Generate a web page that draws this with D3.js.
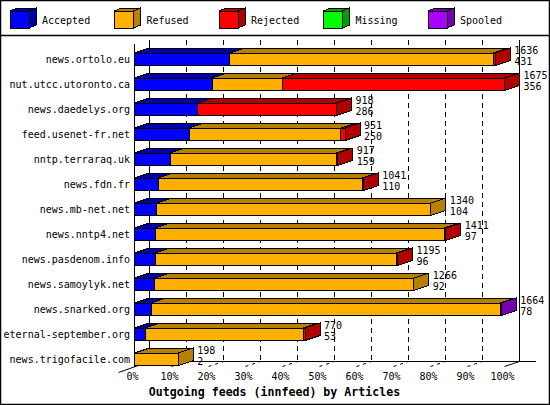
<!DOCTYPE html>
<html>
<head>
<meta charset="utf-8">
<script src="https://cdn.jsdelivr.net/npm/d3@7"></script>
<style>
  body { margin: 0; background: #fff; }
  svg { display: block; }
  text { font-family: "DejaVu Sans Mono", monospace; fill: #000; }
</style>
</head>
<body>
<svg width="550" height="405"></svg>
<script>
// Values (percent of the axis).
const hosts = ['news.ortolo.eu', 'nut.utcc.utoronto.ca', 'news.daedelys.org', 'feed.usenet-fr.net',
  'nntp.terraraq.uk', 'news.fdn.fr', 'news.mb-net.net', 'news.nntp4.net', 'news.pasdenom.info',
  'news.samoylyk.net', 'news.snarked.org', 'eternal-september.org', 'news.trigofacile.com'];
const accepted = [25.8, 21.0, 17.1, 14.8, 9.6, 6.4, 6.0, 5.6, 5.6, 5.5, 4.5, 2.9, 0];
const refused = [71.1, 18.9, 0, 41.0, 45.0, 55.1, 74.1, 78.2, 65.2, 70.0, 94.3, 42.7, 11.8];
const rejected = [0.6, 60.1, 37.5, 1.1, 0.3, 0.3, 0, 0.3, 0.3, 0, 0, 0.5, 0];
const missing = [0, 0, 0, 0, 0, 0, 0, 0, 0, 0, 0, 0, 0];
const spooled = [0, 0, 0, 0, 0, 0, 0, 0, 0, 0, 0.3, 0, 0];
const totals = [1636, 1675, 918, 951, 917, 1041, 1340, 1411, 1195, 1266, 1664, 770, 198];
const second = [431, 356, 286, 250, 159, 110, 104, 97, 96, 92, 78, 53, 2];
const tickValues = [0, 10, 20, 30, 40, 50, 60, 70, 80, 90, 100];
const seriesNames = ['Accepted', 'Refused', 'Rejected', 'Missing', 'Spooled'];
const seriesColors = ['#0000ff', '#ffb000', '#ff0000', '#00ff00', '#aa00ff'];
const seriesDark = ['#0000a8', '#b88000', '#b00000', '#00a000', '#7400b0'];
const title = 'Outgoing feeds (innfeed) by Articles';

const svg = d3.select('svg');
const W = 550, H = 405;
const dx = 15, dy = -5;  // depth of the 3d bars
const barH = 12.5;

const x = d3.scaleLinear().domain([0, 100]).range([134.5, 504.5]);
const y = d3.scalePoint().domain(hosts).range([53, 353]);  // front top of each bar
const yTop = 40, yBase = 361.5;

const series = [accepted, refused, rejected, missing, spooled];

// frame
svg.append('rect').attr('x', 0.5).attr('y', 0.5).attr('width', W - 1).attr('height', H - 1)
  .attr('fill', 'none').attr('stroke', '#000').attr('stroke-width', 1.5);
svg.append('line').attr('x1', 0).attr('x2', W).attr('y1', 35.5).attr('y2', 35.5)
  .attr('stroke', '#000').attr('stroke-width', 1.5);

// legend
const legend = svg.append('g').attr('shape-rendering', 'crispEdges');
seriesNames.forEach((name, i) => {
  const lx = 10 + i * 104.5, ly = 11, bw = 19, bh = 17, ddx = 7, ddy = -3;
  const g = legend.append('g');
  g.append('polygon')
    .attr('points', [[lx, ly], [lx + bw, ly], [lx + bw + ddx, ly + ddy], [lx + ddx, ly + ddy]].join(' '))
    .attr('fill', seriesDark[i]).attr('stroke', '#000');
  g.append('polygon')
    .attr('points', [[lx + bw, ly], [lx + bw + ddx, ly + ddy], [lx + bw + ddx, ly + bh + ddy], [lx + bw, ly + bh]].join(' '))
    .attr('fill', seriesDark[i]).attr('stroke', '#000');
  g.append('rect').attr('x', lx).attr('y', ly).attr('width', bw).attr('height', bh)
    .attr('fill', seriesColors[i]).attr('stroke', '#000');
  g.append('text').attr('x', lx + 32).attr('y', 23.5).attr('font-size', 10).text(name);
});

// back plane: grid and axes
const grid = svg.append('g').attr('shape-rendering', 'crispEdges');
grid.selectAll('line.grid').data(tickValues.slice(1, -1)).join('line')
  .attr('x1', d => x(d) + dx).attr('x2', d => x(d) + dx)
  .attr('y1', yTop).attr('y2', yBase)
  .attr('stroke', '#000').attr('stroke-dasharray', '5,4');
grid.append('line').attr('x1', x(0) + dx).attr('x2', x(0) + dx).attr('y1', yTop).attr('y2', yBase).attr('stroke', '#000');
grid.append('line').attr('x1', x(100) + dx).attr('x2', x(100) + dx).attr('y1', yTop).attr('y2', yBase).attr('stroke', '#000');
grid.append('line').attr('x1', x(0) + dx).attr('x2', x(100) + 2 * dx + 1).attr('y1', yBase).attr('y2', yBase).attr('stroke', '#000');
grid.append('line').attr('x1', x(0)).attr('x2', x(0)).attr('y1', yTop + 4).attr('y2', yBase - dy).attr('stroke', '#000');

// floor ticks
const floor = svg.append('g');
floor.selectAll('line.tick').data(tickValues.slice(1, -1)).join('line')
  .attr('x1', d => x(d)).attr('y1', yBase - dy)
  .attr('x2', d => x(d) + dx).attr('y2', yBase)
  .attr('stroke', '#000').attr('stroke-dasharray', '3,4');
floor.append('line').attr('x1', x(0) - dx - 1).attr('y1', yBase - 2 * dy + 1)
  .attr('x2', x(0) + dx).attr('y2', yBase).attr('stroke', '#000');
floor.append('line').attr('x1', x(100)).attr('y1', yBase - dy)
  .attr('x2', x(100) + dx).attr('y2', yBase).attr('stroke', '#000');

// bars
const bars = svg.append('g').attr('shape-rendering', 'crispEdges');
hosts.forEach((host, r) => {
  const yt = y(host);
  const g = bars.append('g');
  let acc = 0, last = -1;
  const segs = [];
  series.forEach((s, k) => {
    const v = s[r];
    if (v > 0) { segs.push({ k, a: acc, b: acc + v }); acc += v; last = k; }
  });
  segs.forEach(sg => {
    const x0 = x(sg.a), x1 = x(sg.b);
    g.append('polygon')
      .attr('points', [[x0, yt], [x1, yt], [x1 + dx, yt + dy], [x0 + dx, yt + dy]].join(' '))
      .attr('fill', seriesDark[sg.k]).attr('stroke', '#000');
  });
  segs.forEach(sg => {
    g.append('rect').attr('x', x(sg.a)).attr('y', yt)
      .attr('width', x(sg.b) - x(sg.a)).attr('height', barH)
      .attr('fill', seriesColors[sg.k]).attr('stroke', '#000');
  });
  const xe = x(acc);
  g.append('polygon')
    .attr('points', [[xe, yt], [xe + dx, yt + dy], [xe + dx, yt + barH + dy], [xe, yt + barH]].join(' '))
    .attr('fill', seriesDark[last]).attr('stroke', '#000');
  svg.append('text').attr('x', xe + dx + 4).attr('y', yt + 0.5).attr('font-size', 10).text(totals[r]);
  svg.append('text').attr('x', xe + dx + 4).attr('y', yt + 11.5).attr('font-size', 10).text(second[r]);
});

// category labels
svg.append('g').selectAll('text').data(hosts).join('text')
  .attr('x', 130).attr('y', d => y(d) + barH / 2 + 3.5)
  .attr('text-anchor', 'end').attr('font-size', 10).text(d => d);

// x tick labels
svg.append('g').selectAll('text').data(tickValues).join('text')
  .attr('x', d => x(d) - 2).attr('y', 380)
  .attr('text-anchor', 'middle').attr('font-size', 10).text(d => d + '%');

svg.append('text').attr('x', 274.5).attr('y', 396).attr('text-anchor', 'middle')
  .attr('font-size', 11.6).attr('font-weight', 'bold').text(title);
</script>
</body>
</html>
